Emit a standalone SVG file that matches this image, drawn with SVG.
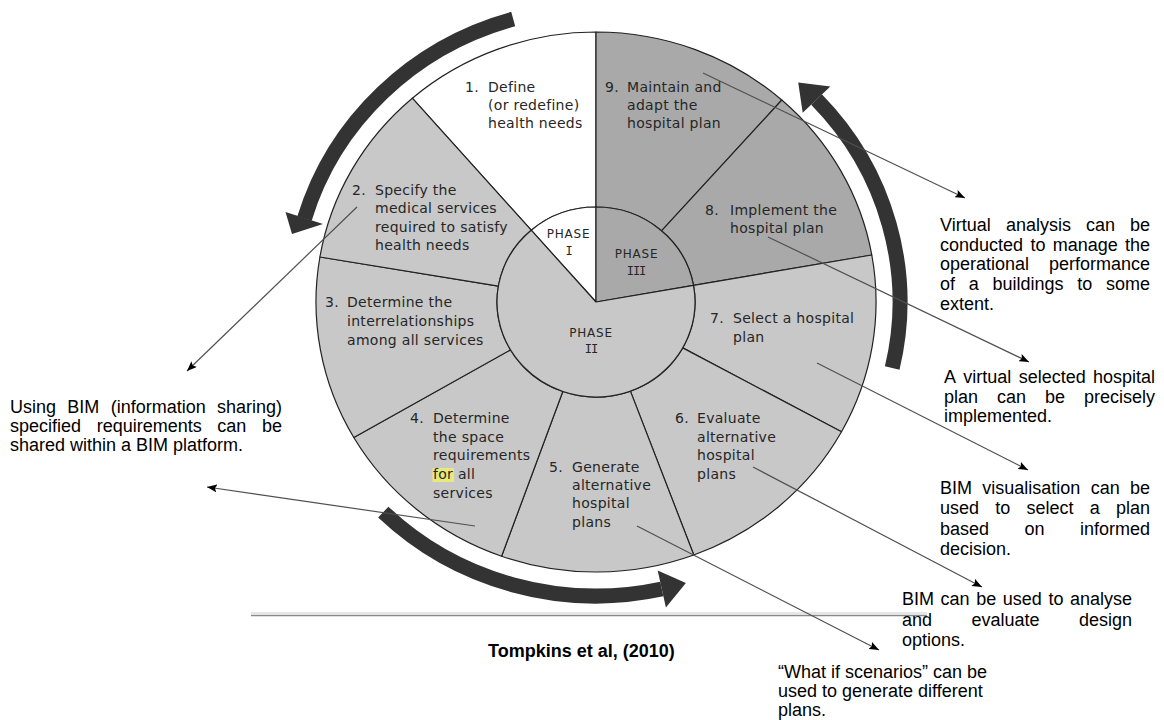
<svg xmlns="http://www.w3.org/2000/svg" width="1164" height="720" viewBox="0 0 1164 720">
  <style>
    .ring { stroke: #222; stroke-width: 1.2; stroke-linejoin: round; }
    .light { fill: #c8c8c8; }
    .dark { fill: #a9a9a9; }
    .white { fill: #ffffff; }
    .seg { font-family: "DejaVu Sans", Verdana, sans-serif; font-size: 14px; letter-spacing: 0.3px; fill: #262626; }
    .ph { font-family: "DejaVu Sans", Verdana, sans-serif; font-size: 12px; letter-spacing: 0.8px; fill: #262626; text-anchor: middle; }
    .rn { font-family: "DejaVu Sans Mono", monospace; font-size: 12px; letter-spacing: -1px; fill: #262626; text-anchor: middle; }
    .note { font-family: "Liberation Sans", Arial, sans-serif; font-size: 18px; fill: #000; }
    .cite { font-family: "Liberation Sans", Arial, sans-serif; font-size: 18px; font-weight: bold; fill: #000; }
    .band { fill: none; stroke: #333; stroke-width: 15; stroke-linecap: butt; }
    .head { fill: #333; }
    .lead { fill: none; stroke: #505050; stroke-width: 1.2; marker-end: url(#tip); }
  </style>
  <defs>
    <marker id="tip" viewBox="0 0 10 8" refX="10" refY="4" markerWidth="10" markerHeight="8" markerUnits="userSpaceOnUse" orient="auto">
      <path d="M0,0 L10,4 L0,8 L2,4 Z" fill="#000"/>
    </marker>
  </defs>

  <rect width="1164" height="720" fill="#fff"/>

  <!-- planning cycle wheel: outer segments -->
  <g id="step-1">
    <path class="ring white" d="M412.3,98.2 A280,270 0 0,1 596,32 L596,207 A99,95 0 0,0 531.2,230.2 Z"/>
    <text class="seg"><tspan x="465" y="92">1.</tspan><tspan x="488" y="92">Define</tspan><tspan x="488" y="110">(or redefine)</tspan><tspan x="488" y="128">health needs</tspan></text>
  </g>
  <g id="step-9">
    <path class="ring dark" d="M596,32 A280,270 0 0,1 781.8,100 L661.5,230.8 A99,95 0 0,0 596,207 Z"/>
    <text class="seg"><tspan x="605" y="92">9.</tspan><tspan x="627" y="92">Maintain and</tspan><tspan x="627" y="110">adapt the</tspan><tspan x="627" y="128">hospital plan</tspan></text>
  </g>
  <g id="step-8">
    <path class="ring dark" d="M781.8,100 A280,270 0 0,1 871.8,255 L693.5,285.4 A99,95 0 0,0 661.5,230.8 Z"/>
    <text class="seg"><tspan x="705" y="214.5">8.</tspan><tspan x="730" y="214.5">Implement the</tspan><tspan x="730" y="233">hospital plan</tspan></text>
  </g>
  <g id="step-7">
    <path class="ring light" d="M871.8,255 A280,270 0 0,1 841.5,431.8 L682.7,347.9 A99,95 0 0,0 693.5,285.4 Z"/>
    <text class="seg"><tspan x="710" y="323.3">7.</tspan><tspan x="733" y="323.3">Select a hospital</tspan><tspan x="733" y="341.8">plan</tspan></text>
  </g>
  <g id="step-6">
    <path class="ring light" d="M841.5,431.8 A280,270 0 0,1 693.8,555 L630.4,391.1 A99,95 0 0,0 682.7,347.9 Z"/>
    <text class="seg"><tspan x="675" y="422.8">6.</tspan><tspan x="697" y="422.8">Evaluate</tspan><tspan x="697" y="441.5">alternative</tspan><tspan x="697" y="460">hospital</tspan><tspan x="697" y="478.7">plans</tspan></text>
  </g>
  <g id="step-5">
    <path class="ring light" d="M693.8,555 A280,270 0 0,1 501.6,556.2 L562.8,391.5 A99,95 0 0,0 630.4,391.1 Z"/>
    <text class="seg"><tspan x="549" y="471.8">5.</tspan><tspan x="572" y="471.8">Generate</tspan><tspan x="572" y="490">alternative</tspan><tspan x="572" y="508.4">hospital</tspan><tspan x="572" y="526.8">plans</tspan></text>
  </g>
  <g id="step-4">
    <path class="ring light" d="M501.6,556.2 A280,270 0 0,1 353.8,437.5 L510.5,349.9 A99,95 0 0,0 562.8,391.5 Z"/>
    <rect x="432.5" y="468" width="21.5" height="14" fill="#e9e97a"/>
    <text class="seg"><tspan x="410" y="422.8">4.</tspan><tspan x="433" y="422.8">Determine</tspan><tspan x="433" y="441.7">the space</tspan><tspan x="433" y="460.3">requirements</tspan><tspan x="433" y="479">for all</tspan><tspan x="433" y="497.8">services</tspan></text>
  </g>
  <g id="step-3">
    <path class="ring light" d="M353.8,437.5 A280,270 0 0,1 319.9,257 L498.4,286.1 A99,95 0 0,0 510.5,349.9 Z"/>
    <text class="seg"><tspan x="325" y="307.3">3.</tspan><tspan x="347" y="307.3">Determine the</tspan><tspan x="347" y="326">interrelationships</tspan><tspan x="347" y="345">among all services</tspan></text>
  </g>
  <g id="step-2">
    <path class="ring light" d="M319.9,257 A280,270 0 0,1 412.3,98.2 L531.2,230.2 A99,95 0 0,0 498.4,286.1 Z"/>
    <text class="seg"><tspan x="352" y="195">2.</tspan><tspan x="375" y="195">Specify the</tspan><tspan x="375" y="213.3">medical services</tspan><tspan x="375" y="231.6">required to satisfy</tspan><tspan x="375" y="250">health needs</tspan></text>
  </g>

  <!-- phases in the hub -->
  <g id="phase-1">
    <path class="ring white" d="M596,302 L531.2,230.2 A99,95 0 0,1 596,207 Z"/>
    <text class="ph" x="568.5" y="238.3">PHASE</text>
    <text class="rn" x="568.5" y="255">I</text>
  </g>
  <g id="phase-3">
    <path class="ring dark" d="M596,302 L596,207 A99,95 0 0,1 693.5,285.4 Z"/>
    <text class="ph" x="636.5" y="258.3">PHASE</text>
    <text class="rn" x="636" y="275">III</text>
  </g>
  <g id="phase-2">
    <path class="ring light" d="M596,302 L693.5,285.4 A99,95 0 1,1 531.2,230.2 Z"/>
    <text class="ph" x="591" y="336.7">PHASE</text>
    <text class="rn" x="591" y="352.7">II</text>
  </g>

  <!-- direction of the cycle -->
  <g id="cycle-arrows">
    <path class="band" d="M513.2,19.1 A304,294 0 0,0 304.5,218.5"/>
    <path class="head" d="M285.5,212 L292,234 L323,224 Z"/>
    <path class="band" d="M383.3,512.1 A304,294 0 0,0 661.8,589"/>
    <path class="head" d="M657.7,570.5 L685.9,582.9 L665.9,607.5 Z"/>
    <path class="band" d="M892.2,368.1 A304,294 0 0,0 816.5,99.6"/>
    <path class="head" d="M830.3,86.5 L798.2,82.5 L802.7,112.7 Z"/>
  </g>

  <!-- source rule and citation -->
  <g id="citation">
    <line x1="251" y1="613" x2="927" y2="613" stroke="#e6e6e6" stroke-width="2"/>
    <line x1="251" y1="615.5" x2="927" y2="615.5" stroke="#8a8a8a" stroke-width="1.5"/>
    <text class="cite" x="488" y="657.3">Tompkins et al, (2010)</text>
  </g>

  <!-- BIM annotations -->
  <g id="note-operate">
    <text class="note"><tspan x="940" y="231">Virtual</tspan><tspan x="1006" y="231">analysis</tspan><tspan x="1086" y="231">can</tspan><tspan x="1130" y="231">be</tspan><tspan x="940" y="250.7">conducted</tspan><tspan x="1030.4" y="250.7">to</tspan><tspan x="1052.7" y="250.7">manage</tspan><tspan x="1125" y="250.7">the</tspan><tspan x="940" y="270.4">operational</tspan><tspan x="1049" y="270.4">performance</tspan><tspan x="940" y="290.1">of</tspan><tspan x="968.7" y="290.1">a</tspan><tspan x="992.4" y="290.1">buildings</tspan><tspan x="1077.2" y="290.1">to</tspan><tspan x="1106" y="290.1">some</tspan><tspan x="940" y="309.8">extent.</tspan></text>
  </g>
  <g id="note-implement">
    <text class="note"><tspan x="944" y="383">A</tspan><tspan x="963.3" y="383">virtual</tspan><tspan x="1018.7" y="383">selected</tspan><tspan x="1093" y="383">hospital</tspan><tspan x="944" y="402.7">plan</tspan><tspan x="997" y="402.7">can</tspan><tspan x="1045" y="402.7">be</tspan><tspan x="1084" y="402.7">precisely</tspan><tspan x="944" y="422.4">implemented.</tspan></text>
  </g>
  <g id="note-select">
    <text class="note"><tspan x="940" y="494">BIM</tspan><tspan x="982.3" y="494">visualisation</tspan><tspan x="1090.7" y="494">can</tspan><tspan x="1130" y="494">be</tspan><tspan x="940" y="514.3">used</tspan><tspan x="995.3" y="514.3">to</tspan><tspan x="1026.5" y="514.3">select</tspan><tspan x="1089.8" y="514.3">a</tspan><tspan x="1116" y="514.3">plan</tspan><tspan x="940" y="534.6">based</tspan><tspan x="1024.5" y="534.6">on</tspan><tspan x="1080" y="534.6">informed</tspan><tspan x="940" y="555">decision.</tspan></text>
  </g>
  <g id="note-evaluate">
    <text class="note"><tspan x="902" y="605">BIM</tspan><tspan x="940.6" y="605">can</tspan><tspan x="976.2" y="605">be</tspan><tspan x="1002.8" y="605">used</tspan><tspan x="1048.4" y="605">to</tspan><tspan x="1070" y="605">analyse</tspan><tspan x="902" y="625.5">and</tspan><tspan x="971.5" y="625.5">evaluate</tspan><tspan x="1079" y="625.5">design</tspan><tspan x="902" y="646">options.</tspan></text>
  </g>
  <g id="note-generate">
    <text class="note"><tspan x="778" y="677.5">“What if scenarios” can be</tspan><tspan x="778" y="697">used to generate different</tspan><tspan x="778" y="715.5">plans.</tspan></text>
  </g>
  <g id="note-share">
    <text class="note"><tspan x="10" y="412.5">Using</tspan><tspan x="67.3" y="412.5">BIM</tspan><tspan x="110.7" y="412.5">(information</tspan><tspan x="217" y="412.5">sharing)</tspan><tspan x="10" y="431.7">specified</tspan><tspan x="96.7" y="431.7">requirements</tspan><tspan x="217.3" y="431.7">can</tspan><tspan x="262" y="431.7">be</tspan><tspan x="10" y="450.9">shared within a BIM platform.</tspan></text>
  </g>

  <!-- leader lines from steps to annotations -->
  <g id="connectors">
    <path class="lead" d="M703,73 L965,198"/>
    <path class="lead" d="M768,237 L1029,362"/>
    <path class="lead" d="M817,363 L1028,470"/>
    <path class="lead" d="M753,467 L982,587"/>
    <path class="lead" d="M637,526 L879,650"/>
    <path class="lead" d="M475,526 L207,487"/>
    <path class="lead" d="M357,207 L187,371"/>
  </g>
</svg>
